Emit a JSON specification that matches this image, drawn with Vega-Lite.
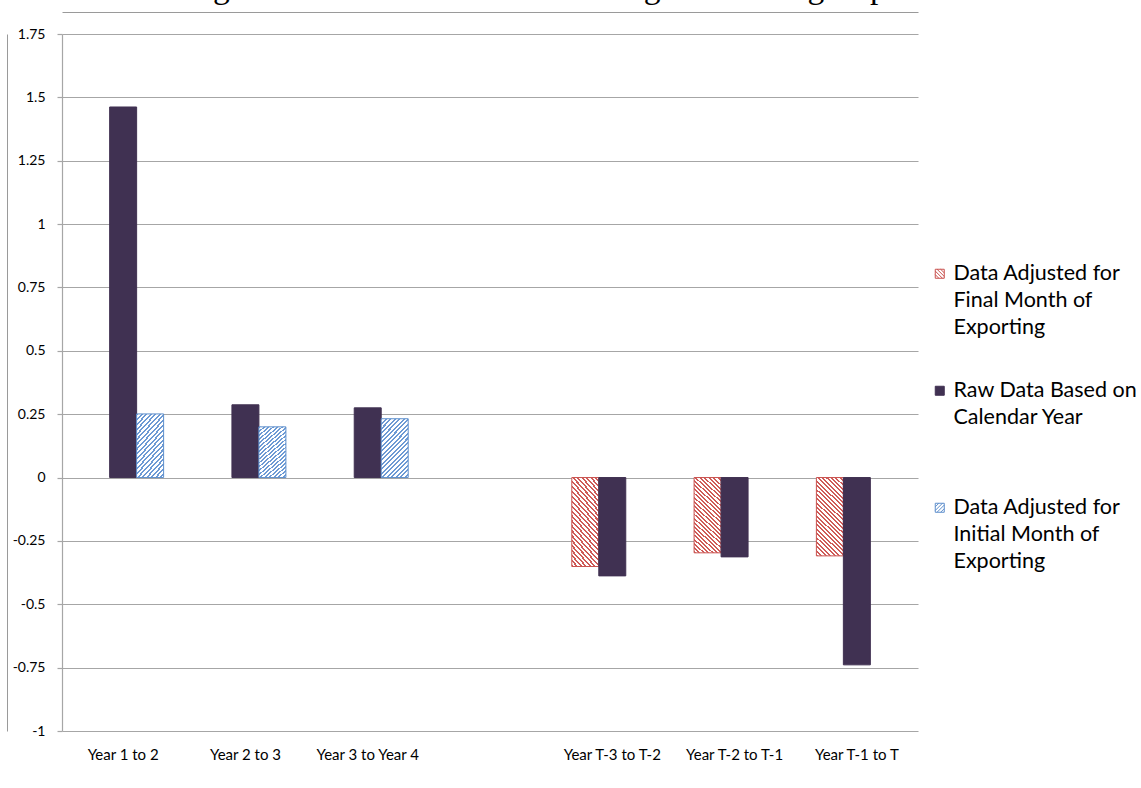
{
  "$schema": "https://vega.github.io/schema/vega-lite/v6.json",
  "width": 856,
  "height": 697,
  "autosize": {"type": "none"},
  "padding": {"left": 62, "top": 34, "right": 223, "bottom": 57},
  "background": "white",
  "title": {
    "text": "Figure 6: Growth Rates of Entering and Exiting Exporters",
    "font": "Liberation Serif",
    "fontSize": 33.5,
    "fontWeight": "normal",
    "color": "#000000",
    "anchor": "middle",
    "baseline": "alphabetic",
    "dx": 84,
    "offset": -19
  },
  "config": {
    "view": {"stroke": null},
    "font": "Lato",
    "style": {"guide-label": {"lineHeight": 27}}
  },
  "data": {
    "values": [
      {"period": "Year 1 to 2", "series": "Raw Data Based on Calendar Year", "value": 1.462},
      {"period": "Year 1 to 2", "series": "Data Adjusted for Initial Month of Exporting", "value": 0.251},
      {"period": "Year 2 to 3", "series": "Raw Data Based on Calendar Year", "value": 0.287},
      {"period": "Year 2 to 3", "series": "Data Adjusted for Initial Month of Exporting", "value": 0.2},
      {"period": "Year 3 to Year 4", "series": "Raw Data Based on Calendar Year", "value": 0.275},
      {"period": "Year 3 to Year 4", "series": "Data Adjusted for Initial Month of Exporting", "value": 0.232},
      {"period": "Year T-3 to T-2", "series": "Data Adjusted for Final Month of Exporting", "value": -0.351},
      {"period": "Year T-3 to T-2", "series": "Raw Data Based on Calendar Year", "value": -0.388},
      {"period": "Year T-2 to T-1", "series": "Data Adjusted for Final Month of Exporting", "value": -0.297},
      {"period": "Year T-2 to T-1", "series": "Raw Data Based on Calendar Year", "value": -0.313},
      {"period": "Year T-1 to T", "series": "Data Adjusted for Final Month of Exporting", "value": -0.309},
      {"period": "Year T-1 to T", "series": "Raw Data Based on Calendar Year", "value": -0.739}
    ]
  },
  "resolve": {"axis": {"x": "independent", "y": "independent"}},
  "layer": [
    {
      "mark": {"type": "bar", "strokeWidth": 1},
      "encoding": {
        "x": {
          "field": "period",
          "type": "nominal",
          "sort": null,
          "scale": {
            "domain": ["Year 1 to 2", "Year 2 to 3", "Year 3 to Year 4", " ", "Year T-3 to T-2", "Year T-2 to T-1", "Year T-1 to T"],
            "paddingInner": 0.338,
            "paddingOuter": 0.169
          },
          "axis": {
            "title": null,
            "labelAngle": 0,
            "domain": false,
            "ticks": false,
            "grid": false,
            "labelFont": "Lato",
            "labelFontSize": 15,
            "labelColor": "#000000",
            "labelPadding": 16
          }
        },
        "xOffset": {
          "field": "series",
          "type": "nominal",
          "scale": {
            "domain": ["Data Adjusted for Final Month of Exporting", "Raw Data Based on Calendar Year", "Data Adjusted for Initial Month of Exporting"],
            "paddingInner": 0,
            "paddingOuter": 0
          }
        },
        "y": {
          "field": "value",
          "type": "quantitative",
          "scale": {"domain": [-1, 1.75], "nice": false, "zero": false},
          "axis": {
            "title": null,
            "values": [-1, -0.75, -0.5, -0.25, 0, 0.25, 0.5, 0.75, 1, 1.25, 1.5, 1.75],
            "labelExpr": "'' + datum.value",
            "domain": true,
            "domainColor": "#a6a6a6",
            "domainWidth": 1.2,
            "ticks": true,
            "tickSize": 5,
            "tickColor": "#a6a6a6",
            "tickWidth": 1.2,
            "grid": true,
            "gridColor": "#a6a6a6",
            "gridWidth": 1.2,
            "labelFont": "Lato",
            "labelFontSize": 14,
            "labelColor": "#000000",
            "labelPadding": 12
          }
        },
        "fill": {
          "condition": [
            {"test": "datum.series == 'Data Adjusted for Final Month of Exporting'",
              "value": {"gradient": "linear", "x1": 0, "y1": 1, "x2": 0.405, "y2": -0.2006, "stops": [
                {"offset": 0, "color": "#cf5b58"}, {"offset": 0.0188, "color": "#cf5b58"}, {"offset": 0.0188, "color": "#ffffff"}, {"offset": 0.0417, "color": "#ffffff"},
                {"offset": 0.0417, "color": "#cf5b58"}, {"offset": 0.0604, "color": "#cf5b58"}, {"offset": 0.0604, "color": "#ffffff"}, {"offset": 0.0833, "color": "#ffffff"},
                {"offset": 0.0833, "color": "#cf5b58"}, {"offset": 0.1021, "color": "#cf5b58"}, {"offset": 0.1021, "color": "#ffffff"}, {"offset": 0.125, "color": "#ffffff"},
                {"offset": 0.125, "color": "#cf5b58"}, {"offset": 0.1438, "color": "#cf5b58"}, {"offset": 0.1438, "color": "#ffffff"}, {"offset": 0.1667, "color": "#ffffff"},
                {"offset": 0.1667, "color": "#cf5b58"}, {"offset": 0.1854, "color": "#cf5b58"}, {"offset": 0.1854, "color": "#ffffff"}, {"offset": 0.2083, "color": "#ffffff"},
                {"offset": 0.2083, "color": "#cf5b58"}, {"offset": 0.2271, "color": "#cf5b58"}, {"offset": 0.2271, "color": "#ffffff"}, {"offset": 0.25, "color": "#ffffff"},
                {"offset": 0.25, "color": "#cf5b58"}, {"offset": 0.2688, "color": "#cf5b58"}, {"offset": 0.2688, "color": "#ffffff"}, {"offset": 0.2917, "color": "#ffffff"},
                {"offset": 0.2917, "color": "#cf5b58"}, {"offset": 0.3104, "color": "#cf5b58"}, {"offset": 0.3104, "color": "#ffffff"}, {"offset": 0.3333, "color": "#ffffff"},
                {"offset": 0.3333, "color": "#cf5b58"}, {"offset": 0.3521, "color": "#cf5b58"}, {"offset": 0.3521, "color": "#ffffff"}, {"offset": 0.375, "color": "#ffffff"},
                {"offset": 0.375, "color": "#cf5b58"}, {"offset": 0.3938, "color": "#cf5b58"}, {"offset": 0.3938, "color": "#ffffff"}, {"offset": 0.4167, "color": "#ffffff"},
                {"offset": 0.4167, "color": "#cf5b58"}, {"offset": 0.4354, "color": "#cf5b58"}, {"offset": 0.4354, "color": "#ffffff"}, {"offset": 0.4583, "color": "#ffffff"},
                {"offset": 0.4583, "color": "#cf5b58"}, {"offset": 0.4771, "color": "#cf5b58"}, {"offset": 0.4771, "color": "#ffffff"}, {"offset": 0.5, "color": "#ffffff"},
                {"offset": 0.5, "color": "#cf5b58"}, {"offset": 0.5188, "color": "#cf5b58"}, {"offset": 0.5188, "color": "#ffffff"}, {"offset": 0.5417, "color": "#ffffff"},
                {"offset": 0.5417, "color": "#cf5b58"}, {"offset": 0.5604, "color": "#cf5b58"}, {"offset": 0.5604, "color": "#ffffff"}, {"offset": 0.5833, "color": "#ffffff"},
                {"offset": 0.5833, "color": "#cf5b58"}, {"offset": 0.6021, "color": "#cf5b58"}, {"offset": 0.6021, "color": "#ffffff"}, {"offset": 0.625, "color": "#ffffff"},
                {"offset": 0.625, "color": "#cf5b58"}, {"offset": 0.6438, "color": "#cf5b58"}, {"offset": 0.6438, "color": "#ffffff"}, {"offset": 0.6667, "color": "#ffffff"},
                {"offset": 0.6667, "color": "#cf5b58"}, {"offset": 0.6854, "color": "#cf5b58"}, {"offset": 0.6854, "color": "#ffffff"}, {"offset": 0.7083, "color": "#ffffff"},
                {"offset": 0.7083, "color": "#cf5b58"}, {"offset": 0.7271, "color": "#cf5b58"}, {"offset": 0.7271, "color": "#ffffff"}, {"offset": 0.75, "color": "#ffffff"},
                {"offset": 0.75, "color": "#cf5b58"}, {"offset": 0.7688, "color": "#cf5b58"}, {"offset": 0.7688, "color": "#ffffff"}, {"offset": 0.7917, "color": "#ffffff"},
                {"offset": 0.7917, "color": "#cf5b58"}, {"offset": 0.8104, "color": "#cf5b58"}, {"offset": 0.8104, "color": "#ffffff"}, {"offset": 0.8333, "color": "#ffffff"},
                {"offset": 0.8333, "color": "#cf5b58"}, {"offset": 0.8521, "color": "#cf5b58"}, {"offset": 0.8521, "color": "#ffffff"}, {"offset": 0.875, "color": "#ffffff"},
                {"offset": 0.875, "color": "#cf5b58"}, {"offset": 0.8938, "color": "#cf5b58"}, {"offset": 0.8938, "color": "#ffffff"}, {"offset": 0.9167, "color": "#ffffff"},
                {"offset": 0.9167, "color": "#cf5b58"}, {"offset": 0.9354, "color": "#cf5b58"}, {"offset": 0.9354, "color": "#ffffff"}, {"offset": 0.9583, "color": "#ffffff"},
                {"offset": 0.9583, "color": "#cf5b58"}, {"offset": 0.9771, "color": "#cf5b58"}, {"offset": 0.9771, "color": "#ffffff"}, {"offset": 1, "color": "#ffffff"}
              ]}},
            {"test": "datum.series == 'Data Adjusted for Initial Month of Exporting'",
              "value": {"gradient": "linear", "x1": 0, "y1": 0, "x2": 0.56, "y2": 1.205, "stops": [
                {"offset": 0, "color": "#6d9ad4"}, {"offset": 0.0237, "color": "#6d9ad4"}, {"offset": 0.0237, "color": "#ffffff"}, {"offset": 0.0526, "color": "#ffffff"},
                {"offset": 0.0526, "color": "#6d9ad4"}, {"offset": 0.0763, "color": "#6d9ad4"}, {"offset": 0.0763, "color": "#ffffff"}, {"offset": 0.1053, "color": "#ffffff"},
                {"offset": 0.1053, "color": "#6d9ad4"}, {"offset": 0.1289, "color": "#6d9ad4"}, {"offset": 0.1289, "color": "#ffffff"}, {"offset": 0.1579, "color": "#ffffff"},
                {"offset": 0.1579, "color": "#6d9ad4"}, {"offset": 0.1816, "color": "#6d9ad4"}, {"offset": 0.1816, "color": "#ffffff"}, {"offset": 0.2105, "color": "#ffffff"},
                {"offset": 0.2105, "color": "#6d9ad4"}, {"offset": 0.2342, "color": "#6d9ad4"}, {"offset": 0.2342, "color": "#ffffff"}, {"offset": 0.2632, "color": "#ffffff"},
                {"offset": 0.2632, "color": "#6d9ad4"}, {"offset": 0.2868, "color": "#6d9ad4"}, {"offset": 0.2868, "color": "#ffffff"}, {"offset": 0.3158, "color": "#ffffff"},
                {"offset": 0.3158, "color": "#6d9ad4"}, {"offset": 0.3395, "color": "#6d9ad4"}, {"offset": 0.3395, "color": "#ffffff"}, {"offset": 0.3684, "color": "#ffffff"},
                {"offset": 0.3684, "color": "#6d9ad4"}, {"offset": 0.3921, "color": "#6d9ad4"}, {"offset": 0.3921, "color": "#ffffff"}, {"offset": 0.4211, "color": "#ffffff"},
                {"offset": 0.4211, "color": "#6d9ad4"}, {"offset": 0.4447, "color": "#6d9ad4"}, {"offset": 0.4447, "color": "#ffffff"}, {"offset": 0.4737, "color": "#ffffff"},
                {"offset": 0.4737, "color": "#6d9ad4"}, {"offset": 0.4974, "color": "#6d9ad4"}, {"offset": 0.4974, "color": "#ffffff"}, {"offset": 0.5263, "color": "#ffffff"},
                {"offset": 0.5263, "color": "#6d9ad4"}, {"offset": 0.55, "color": "#6d9ad4"}, {"offset": 0.55, "color": "#ffffff"}, {"offset": 0.5789, "color": "#ffffff"},
                {"offset": 0.5789, "color": "#6d9ad4"}, {"offset": 0.6026, "color": "#6d9ad4"}, {"offset": 0.6026, "color": "#ffffff"}, {"offset": 0.6316, "color": "#ffffff"},
                {"offset": 0.6316, "color": "#6d9ad4"}, {"offset": 0.6553, "color": "#6d9ad4"}, {"offset": 0.6553, "color": "#ffffff"}, {"offset": 0.6842, "color": "#ffffff"},
                {"offset": 0.6842, "color": "#6d9ad4"}, {"offset": 0.7079, "color": "#6d9ad4"}, {"offset": 0.7079, "color": "#ffffff"}, {"offset": 0.7368, "color": "#ffffff"},
                {"offset": 0.7368, "color": "#6d9ad4"}, {"offset": 0.7605, "color": "#6d9ad4"}, {"offset": 0.7605, "color": "#ffffff"}, {"offset": 0.7895, "color": "#ffffff"},
                {"offset": 0.7895, "color": "#6d9ad4"}, {"offset": 0.8132, "color": "#6d9ad4"}, {"offset": 0.8132, "color": "#ffffff"}, {"offset": 0.8421, "color": "#ffffff"},
                {"offset": 0.8421, "color": "#6d9ad4"}, {"offset": 0.8658, "color": "#6d9ad4"}, {"offset": 0.8658, "color": "#ffffff"}, {"offset": 0.8947, "color": "#ffffff"},
                {"offset": 0.8947, "color": "#6d9ad4"}, {"offset": 0.9184, "color": "#6d9ad4"}, {"offset": 0.9184, "color": "#ffffff"}, {"offset": 0.9474, "color": "#ffffff"},
                {"offset": 0.9474, "color": "#6d9ad4"}, {"offset": 0.9711, "color": "#6d9ad4"}, {"offset": 0.9711, "color": "#ffffff"}, {"offset": 1, "color": "#ffffff"}
              ]}}
          ],
          "value": "#403152"
        },
        "stroke": {
          "field": "series",
          "type": "nominal",
          "scale": {
            "domain": ["Data Adjusted for Final Month of Exporting", "Raw Data Based on Calendar Year", "Data Adjusted for Initial Month of Exporting"],
            "range": ["#c9524f", "#403152", "#5e8fcc"]
          },
          "legend": {
            "title": null,
            "orient": "none",
            "legendX": 867,
            "legendY": 229,
            "padding": 0,
            "symbolType": {"expr": "datum.value == 'Raw Data Based on Calendar Year' ? 'square' : datum.value == 'Data Adjusted for Final Month of Exporting' ? 'M-1,-1L1,-1M1,-1L1,1M1,1L-1,1M-1,1L-1,-1M-1,0.2L-0.2,1M-1,-0.6L0.6,1M-0.6,-1L1,0.6M0.2,-1L1,-0.2' : 'M-1,-1L1,-1M1,-1L1,1M1,1L-1,1M-1,1L-1,-1M-1,-0.2L-0.2,-1M-1,0.6L0.6,-1M-0.6,1L1,-0.6M0.2,1L1,0.2'"},
            "symbolSize": 81,
            "symbolStrokeWidth": 1,
            "labelOffset": 3,
            "labelFont": "Lato",
            "labelFontSize": 21.5,
            "labelColor": "#000000",
            "labelLimit": 0,
            "labelBaseline": "middle",
            "gridAlign": "all",
            "rowPadding": 40,
            "labelExpr": "datum.label == 'Raw Data Based on Calendar Year' ? ['Raw Data Based on', 'Calendar Year'] : datum.label == 'Data Adjusted for Final Month of Exporting' ? ['Data Adjusted for', 'Final Month of', 'Exporting'] : ['Data Adjusted for', 'Initial Month of', 'Exporting']"
          }
        }
      }
    },
    {
      "mark": {"type": "bar", "opacity": 0},
      "encoding": {
        "x": {
          "field": "period",
          "type": "nominal",
          "sort": null,
          "scale": {
            "domain": ["Year 1 to 2", "Year 2 to 3", "Year 3 to Year 4", " ", "Year T-3 to T-2", "Year T-2 to T-1", "Year T-1 to T"]
          },
          "axis": {
            "orient": "top",
            "offset": 22,
            "title": null,
            "labels": false,
            "ticks": false,
            "grid": false,
            "domain": true,
            "domainColor": "#9a9a9a",
            "domainWidth": 1
          }
        },
        "y": {
          "field": "value",
          "type": "quantitative",
          "scale": {"domain": [-1, 1.75], "nice": false, "zero": false},
          "axis": {
            "orient": "left",
            "offset": 55,
            "title": null,
            "labels": false,
            "ticks": false,
            "grid": false,
            "domain": true,
            "domainColor": "#9a9a9a",
            "domainWidth": 1
          }
        }
      }
    }
  ]
}
